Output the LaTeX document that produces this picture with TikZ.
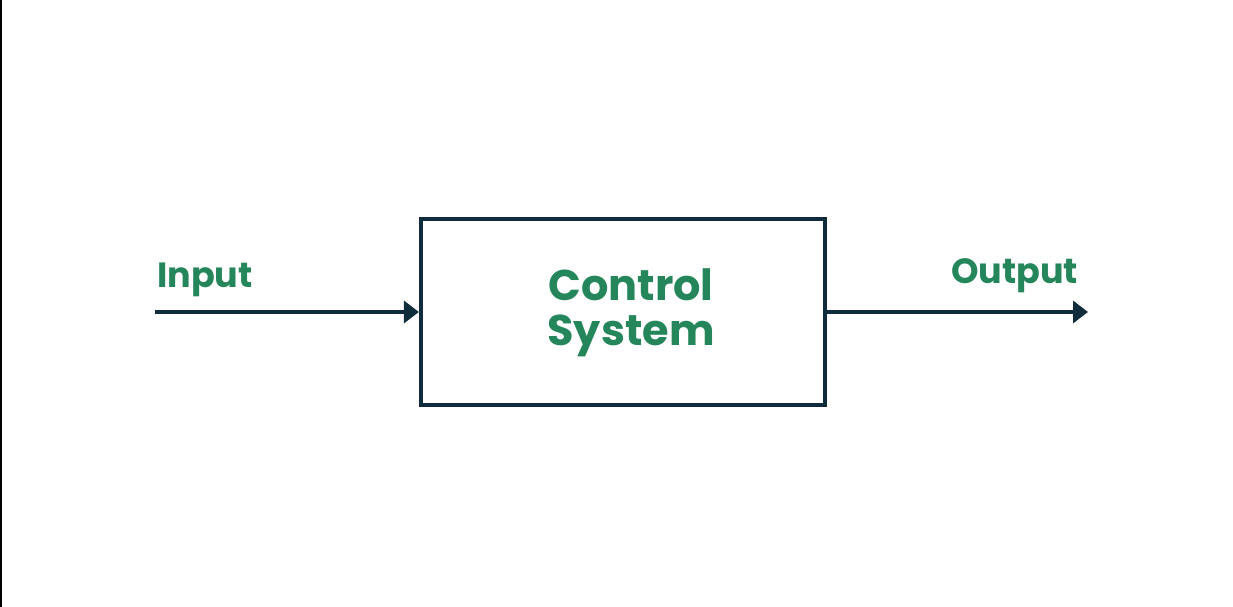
\documentclass[tikz,border=0pt]{standalone}
\usepackage{fontspec}
\setmainfont{Poppins}[UprightFont=* SemiBold, BoldFont=* Bold]
\usetikzlibrary{arrows.meta}
\definecolor{navy}{RGB}{14,44,60}
\definecolor{dgreen}{RGB}{36,134,90}
\tikzset{
  sysbox/.style={draw=navy, line width=4.2pt, minimum width=404pt, minimum height=186pt, inner sep=0pt},
  arr/.style={draw=navy, line width=3.6pt, -{Triangle[length=15pt,width=22pt]}},
  lbl/.style={text=dgreen, font=\bfseries\fontsize{35}{40}\selectfont, inner sep=0pt},
  title/.style={text=dgreen, font=\bfseries\fontsize{43}{46}\selectfont, align=center, inner sep=0pt}
}
\begin{document}
\begin{tikzpicture}[x=1pt,y=-1pt]
\useasboundingbox (0,0) rectangle (1233,607);
\fill[black] (0,0) rectangle (2,607);
\node[sysbox] (sys) at (623,312) {};
\node[title, anchor=base] (t1) at (631,300) {Control};
\node[title, anchor=base] (t2) at (631,345) {System};
\coordinate (in) at (155,312);
\coordinate (out) at (1088,312);
\draw[arr] (in) -- (sys.west);
\draw[arr] (sys.east) -- (out);
\node[lbl, anchor=base west] (il) at (157,287) {Input};
\node[lbl, anchor=base west] (ol) at (951,283) {Output};
\end{tikzpicture}
\end{document}
